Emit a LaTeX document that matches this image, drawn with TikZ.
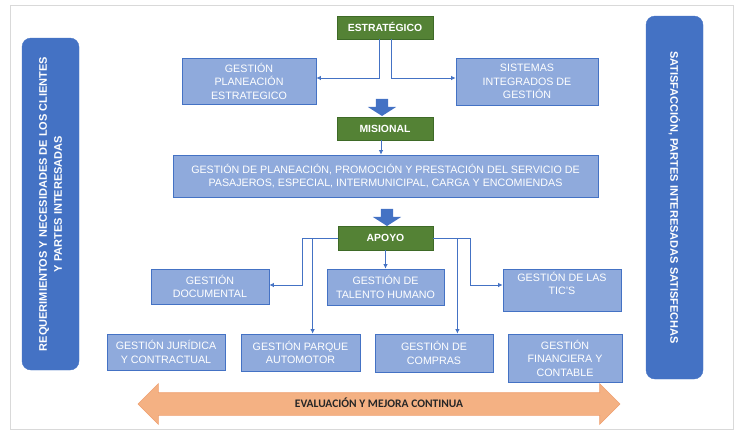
\documentclass[tikz,border=0pt]{standalone}
\usepackage{fontspec}
\setmainfont{Liberation Sans}
\newfontfamily\calibri{Carlito}
\usepackage{tikz}
\usetikzlibrary{arrows.meta,shapes.arrows}
\usepackage{xcolor}
\definecolor{azul}{HTML}{4472C4}
\definecolor{azulclaro}{HTML}{8FAADC}
\definecolor{verde}{HTML}{548235}
\definecolor{verdeborde}{HTML}{3E6A27}
\definecolor{salmon}{HTML}{F4B183}
\definecolor{salmonborde}{HTML}{EFA070}
\definecolor{marco}{HTML}{D9D9D9}
\definecolor{oscuro}{HTML}{262626}

\begin{document}
\begin{tikzpicture}[x=1pt,y=-1pt,
	nivel/.style={draw=verdeborde, fill=verde, text=white, line width=0.8pt, font=\bfseries\fontsize{10.4}{12}\selectfont, minimum width=96pt, minimum height=23pt, inner sep=0pt, text height=7.5pt, text depth=0pt},
	gestion/.style={draw=azul, fill=azulclaro, text=white, line width=0.8pt, align=center, font=\fontsize{10.7}{13.5}\selectfont, inner sep=0pt},
	lateral/.style={fill=azul, draw=azul, rounded corners=9pt, text=white, align=center, font=\bfseries\fontsize{11}{15}\selectfont, minimum height=57pt, inner sep=0pt},
	flecha/.style={draw=azul, line width=0.8pt, -{Latex[length=4.5pt,width=4.5pt]}},
	bloque/.style={single arrow, fill=azul, rotate=-90, minimum height=17pt, minimum width=28pt, single arrow head extend=8pt, single arrow tip angle=115, inner sep=6pt}]
	\useasboundingbox (0,0) rectangle (736,432);
	\draw[marco, line width=0.8pt] (10,5) rectangle (733,429);

	\node (req) [lateral, rotate=90, minimum width=332pt] at (50.5,204) {REQUERIMIENTOS Y NECESIDADES DE LOS CLIENTES\\Y PARTES INTERESADAS};
	\node (sat) [lateral, rotate=-90, minimum width=363pt] at (674.5,197.5) {SATISFACCIÓN, PARTES INTERESADAS SATISFECHAS};

	\node (estrat) [nivel] at (385,27.5) {ESTRATÉGICO};
	\node (planea) [gestion, minimum width=134pt, minimum height=46pt] at (249,81) {GESTIÓN\\PLANEACIÓN\\ESTRATEGICO};
	\node (sistemas) [gestion, minimum width=142pt, minimum height=47pt] at (527,81.5) {SISTEMAS\\INTEGRADOS DE\\GESTIÓN};
	\node (bloque1) [bloque] at (382,105.5) {};
	\node (misional) [nivel] at (385,128.5) {MISIONAL};
	\node (servicio) [gestion, minimum width=425pt, minimum height=42pt] at (385.5,176) {GESTIÓN DE PLANEACIÓN, PROMOCIÓN Y PRESTACIÓN DEL SERVICIO DE\\PASAJEROS, ESPECIAL, INTERMUNICIPAL, CARGA Y ENCOMIENDAS};
	\node (bloque2) [bloque] at (387,215.5) {};
	\node (apoyo) [nivel, minimum width=95pt, minimum height=24pt] at (385.5,238) {APOYO};

	\node (documental) [gestion, minimum width=118pt, minimum height=35pt] at (210,286.5) {GESTIÓN\\DOCUMENTAL};
	\node (talento) [gestion, minimum width=117pt, minimum height=36pt] at (385.5,287) {GESTIÓN DE\\TALENTO HUMANO};
	\node (tics) [gestion, minimum width=118pt, minimum height=42pt] at (562,290) {GESTIÓN DE LAS\\TIC'S\\\mbox{}};
	\node (juridica) [gestion, minimum width=118pt, minimum height=36pt] at (166,352) {GESTIÓN JURÍDICA\\Y CONTRACTUAL};
	\node (parque) [gestion, minimum width=119pt, minimum height=37pt] at (300.5,352.5) {GESTIÓN PARQUE\\AUTOMOTOR};
	\node (compras) [gestion, minimum width=118pt, minimum height=38pt] at (434,353) {GESTIÓN DE\\COMPRAS};
	\node (financiera) [gestion, minimum width=114pt, minimum height=48pt] at (565,358) {GESTIÓN\\FINANCIERA Y\\CONTABLE};

	\node (mejora) [double arrow, fill=salmon, draw=salmonborde, line width=0.6pt, minimum height=482pt, double arrow head extend=9pt, double arrow tip angle=90, text height=8pt, text depth=1pt, inner ysep=6.5pt, text=oscuro, font=\calibri\bfseries\fontsize{11.5}{12}\selectfont] at (379,404) {EVALUACIÓN Y MEJORA CONTINUA};

	\coordinate (m1) at ([xshift=-4pt]misional.south);
	\coordinate (a1) at ([xshift=-25pt]apoyo.west);
	\coordinate (a2) at ([xshift=24pt]apoyo.east);
	\draw[flecha] ([xshift=-6pt]estrat.south) |- ([yshift=3pt]planea.east);
	\draw[flecha] ([xshift=6pt]estrat.south) |- ([yshift=3.5pt]sistemas.west);
	\draw[flecha] (m1) -- (m1 |- servicio.north);
	\draw[flecha] (apoyo.west) -- ++(-35,0) |- ([yshift=1.5pt]documental.east);
	\draw[flecha] (a1) -- (a1 |- parque.north);
	\draw[flecha] (apoyo.south) -- (talento.north);
	\draw[flecha] (apoyo.east) -- ++(37,0) |- ([yshift=5pt]tics.west);
	\draw[flecha] (a2) -- (a2 |- compras.north);
\end{tikzpicture}
\end{document}
